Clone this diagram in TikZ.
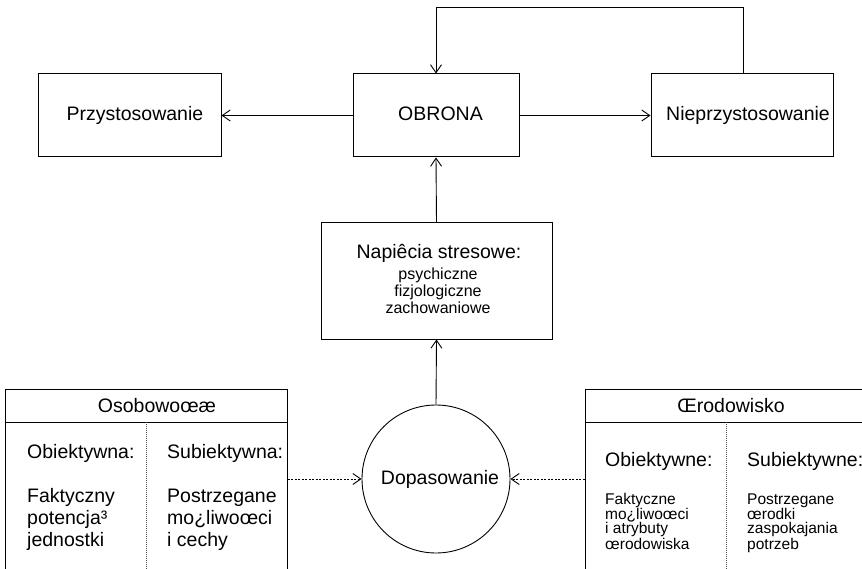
\documentclass[tikz,border=0pt]{standalone}
\usepackage{fontspec}
\setmainfont{Liberation Sans}
\usetikzlibrary{arrows.meta}
\begin{document}
\begin{tikzpicture}[x=1pt,y=-1pt,
  box/.style={draw, line width=1pt, inner sep=0pt, rectangle},
  big/.style={font=\fontsize{19.5}{22}\selectfont, inner sep=0pt},
  mid/.style={font=\fontsize{16}{16.5}\selectfont, inner sep=0pt, align=center},
  small/.style={font=\fontsize{15.5}{14}\selectfont, inner sep=0pt, align=left},
  link/.style={draw, line width=0.9pt, -{Straight Barb[length=8pt,width=11pt]}},
  dotlink/.style={link, dash pattern=on 2pt off 1.5pt},
  divider/.style={draw, line width=0.8pt, dash pattern=on 1pt off 1pt, black!70}
]
\clip (0,0) rectangle (862,569);

% top row
\node[box, minimum width=183, minimum height=83] (przy) at (129.5,115.5) {};
\node[big, anchor=base] (przyt) at (135,121) {Przystosowanie};
\node[box, minimum width=166, minimum height=83] (obr) at (436,115.5) {};
\node[big, anchor=base] (obrt) at (440.5,121) {OBRONA};
\node[box, minimum width=182, minimum height=83] (niep) at (742,115.5) {};
\node[big, anchor=base] (niept) at (748,121) {Nieprzystosowanie};

% stress box (multi-line blocks are placed by the baseline of their last line)
\node[box, minimum width=231, minimum height=116] (nap) at (436.5,281) {};
\node[big, anchor=base] (napt) at (439,259) {Napiêcia stresowe:};
\node[mid, anchor=base] (napl) at (438,313) {psychiczne\\fizjologiczne\\zachowaniowe};

% fit circle
\node[draw, circle, line width=0.9pt, minimum size=148, inner sep=0pt] (dop) at (436,479) {};
\node[big, anchor=base] (dopt) at (440,484) {Dopasowanie};

% personality box (open at the bottom)
\node[box, minimum width=282, minimum height=211] (osob) at (146,494.5) {};
\draw[line width=1pt] (osob.north west |- 0,422) -- (osob.north east |- 0,422);
\draw[divider] (osob.center |- 0,422) -- (osob.south);
\node[big, anchor=base] (osobt) at (157,412) {Osobowoœæ};
\node[big, anchor=base west] (osob1) at (27,458) {Obiektywna:};
\node[big, anchor=base west] (osob2) at (167,458) {Subiektywna:};
\node[big, anchor=base west, align=left] (osob3) at (27,546) {Faktyczny\\potencja³\\jednostki};
\node[big, anchor=base west, align=left] (osob4) at (167,546) {Postrzegane\\mo¿liwoœci\\i cechy};

% environment box (open at the bottom, runs past the right edge)
\node[box, minimum width=292, minimum height=211] (srod) at (731,494.5) {};
\draw[line width=1pt] (srod.north west |- 0,422) -- (srod.north east |- 0,422);
\draw[divider] (726,422) -- (726,600);
\node[big, anchor=base] (srodt) at (731,412) {Œrodowisko};
\node[big, anchor=base west] (srod1) at (605,466) {Obiektywne:};
\node[big, anchor=base west] (srod2) at (747,466) {Subiektywne:};
\node[small, anchor=base west] (srod3) at (605,549) {Faktyczne\\mo¿liwoœci\\i atrybuty\\œrodowiska};
\node[small, anchor=base west] (srod4) at (747,549) {Postrzegane\\œrodki\\zaspokajania\\potrzeb};

% connectors
\draw[link] (obr.west) -- (przy.east);
\draw[link] (obr.east) -- (niep.west);
\draw[link] ([xshift=1pt]niep.north) -- ++(0,-66) -| (obr.north);
\draw[link] (nap.north) -- (obr.south);
\draw[link] (dop.north) -- (nap.south);
\draw[dotlink] (osob.east |- dop.west) -- (dop.west);
\draw[dotlink] (srod.west |- dop.east) -- (dop.east);
\end{tikzpicture}
\end{document}
